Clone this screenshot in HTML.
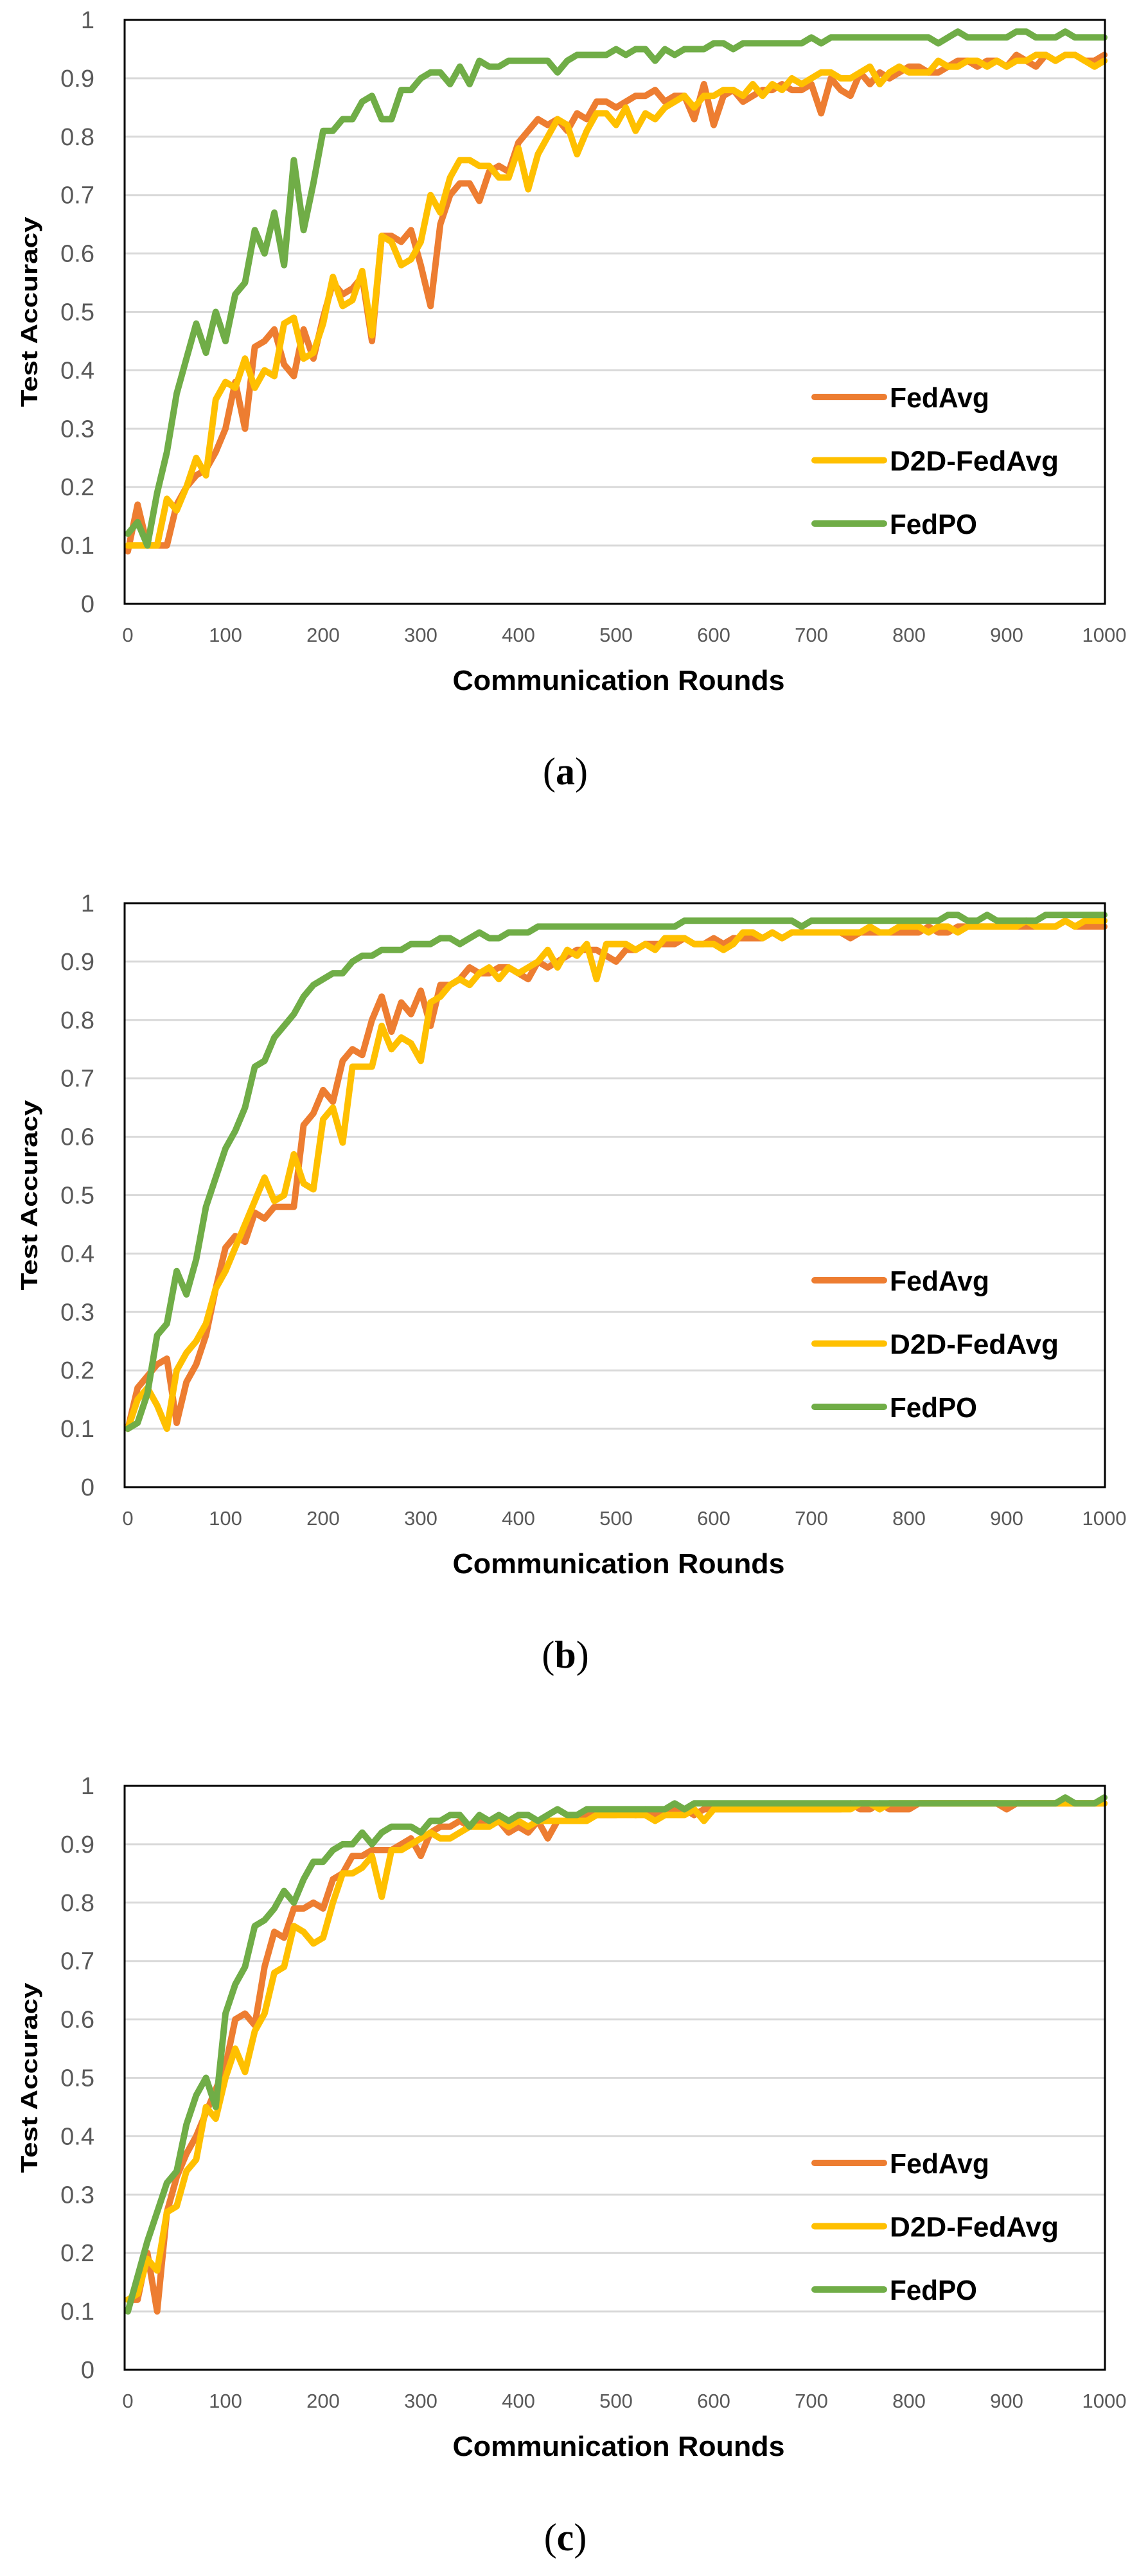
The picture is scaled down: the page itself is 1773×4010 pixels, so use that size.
<!DOCTYPE html>
<html><head><meta charset="utf-8"><style>
html,body{margin:0;padding:0;background:#fff;}
svg{display:block;}
</style></head><body>
<svg id="fig" width="1773" height="4010" viewBox="0 0 1773 4010" xmlns="http://www.w3.org/2000/svg"></svg>
<script>
// ---- data ----
const rounds = [0,10,20,30,40,50,60,70,80,90,100,110,120,130,140,150,160,170,180,190,200,210,220,230,240,250,260,270,280,290,300,310,320,330,340,350,360,370,380,390,400,410,420,430,440,450,460,470,480,490,500,510,520,530,540,550,560,570,580,590,600,610,620,630,640,650,660,670,680,690,700,710,720,730,740,750,760,770,780,790,800,810,820,830,840,850,860,870,880,890,900,910,920,930,940,950,960,970,980,990,1000];
const xTicks = [0,100,200,300,400,500,600,700,800,900,1000];
const yTicks = [0,0.1,0.2,0.3,0.4,0.5,0.6,0.7,0.8,0.9,1];
const yTickLabels = ["0","0.1","0.2","0.3","0.4","0.5","0.6","0.7","0.8","0.9","1"];
const seriesNames = ["FedAvg","D2D-FedAvg","FedPO"];
const captions = ["a","b","c"];

const aFedAvg = [0.09,0.17,0.10,0.10,0.10,0.17,0.20,0.22,0.23,0.26,0.30,0.38,0.30,0.44,0.45,0.47,0.41,0.39,0.47,0.42,0.49,0.55,0.53,0.54,0.56,0.45,0.63,0.63,0.62,0.64,0.58,0.51,0.65,0.70,0.72,0.72,0.69,0.74,0.75,0.74,0.79,0.81,0.83,0.82,0.83,0.81,0.84,0.83,0.86,0.86,0.85,0.86,0.87,0.87,0.88,0.86,0.87,0.87,0.83,0.89,0.82,0.87,0.88,0.86,0.87,0.88,0.88,0.89,0.88,0.88,0.89,0.84,0.90,0.88,0.87,0.91,0.89,0.91,0.90,0.91,0.92,0.92,0.91,0.91,0.92,0.93,0.93,0.92,0.93,0.93,0.92,0.94,0.93,0.92,0.94,0.93,0.94,0.94,0.93,0.93,0.94];
const aD2D = [0.10,0.10,0.10,0.10,0.18,0.16,0.20,0.25,0.22,0.35,0.38,0.37,0.42,0.37,0.40,0.39,0.48,0.49,0.42,0.43,0.48,0.56,0.51,0.52,0.57,0.46,0.63,0.62,0.58,0.59,0.62,0.70,0.67,0.73,0.76,0.76,0.75,0.75,0.73,0.73,0.78,0.71,0.77,0.80,0.83,0.82,0.77,0.81,0.84,0.84,0.82,0.85,0.81,0.84,0.83,0.85,0.86,0.87,0.85,0.87,0.87,0.88,0.88,0.87,0.89,0.87,0.89,0.88,0.90,0.89,0.90,0.91,0.91,0.90,0.90,0.91,0.92,0.89,0.91,0.92,0.91,0.91,0.91,0.93,0.92,0.92,0.93,0.93,0.92,0.93,0.92,0.93,0.93,0.94,0.94,0.93,0.94,0.94,0.93,0.92,0.93];
const aFedPO = [0.12,0.14,0.10,0.19,0.26,0.36,0.42,0.48,0.43,0.50,0.45,0.53,0.55,0.64,0.60,0.67,0.58,0.76,0.64,0.72,0.81,0.81,0.83,0.83,0.86,0.87,0.83,0.83,0.88,0.88,0.90,0.91,0.91,0.89,0.92,0.89,0.93,0.92,0.92,0.93,0.93,0.93,0.93,0.93,0.91,0.93,0.94,0.94,0.94,0.94,0.95,0.94,0.95,0.95,0.93,0.95,0.94,0.95,0.95,0.95,0.96,0.96,0.95,0.96,0.96,0.96,0.96,0.96,0.96,0.96,0.97,0.96,0.97,0.97,0.97,0.97,0.97,0.97,0.97,0.97,0.97,0.97,0.97,0.96,0.97,0.98,0.97,0.97,0.97,0.97,0.97,0.98,0.98,0.97,0.97,0.97,0.98,0.97,0.97,0.97,0.97];

const bFedAvg = [0.10,0.17,0.19,0.21,0.22,0.11,0.18,0.21,0.26,0.34,0.41,0.43,0.42,0.47,0.46,0.48,0.48,0.48,0.62,0.64,0.68,0.66,0.73,0.75,0.74,0.80,0.84,0.78,0.83,0.81,0.85,0.79,0.86,0.86,0.87,0.89,0.88,0.88,0.89,0.89,0.88,0.87,0.90,0.89,0.90,0.91,0.92,0.92,0.92,0.91,0.90,0.92,0.92,0.93,0.93,0.93,0.93,0.94,0.93,0.93,0.94,0.93,0.94,0.94,0.94,0.94,0.95,0.94,0.95,0.95,0.95,0.95,0.95,0.95,0.94,0.95,0.95,0.95,0.95,0.95,0.95,0.95,0.96,0.95,0.95,0.96,0.96,0.96,0.96,0.96,0.96,0.96,0.96,0.96,0.96,0.96,0.97,0.96,0.96,0.96,0.96];
const bD2D = [0.10,0.15,0.17,0.14,0.10,0.20,0.23,0.25,0.28,0.34,0.37,0.41,0.45,0.49,0.53,0.49,0.50,0.57,0.52,0.51,0.63,0.65,0.59,0.72,0.72,0.72,0.79,0.75,0.77,0.76,0.73,0.83,0.84,0.86,0.87,0.86,0.88,0.89,0.87,0.89,0.88,0.89,0.90,0.92,0.89,0.92,0.91,0.93,0.87,0.93,0.93,0.93,0.92,0.93,0.92,0.94,0.94,0.94,0.93,0.93,0.93,0.92,0.93,0.95,0.95,0.94,0.95,0.94,0.95,0.95,0.95,0.95,0.95,0.95,0.95,0.95,0.96,0.95,0.95,0.96,0.96,0.96,0.95,0.96,0.96,0.95,0.96,0.96,0.96,0.96,0.96,0.96,0.97,0.96,0.96,0.96,0.97,0.96,0.97,0.97,0.97];
const bFedPO = [0.10,0.11,0.16,0.26,0.28,0.37,0.33,0.39,0.48,0.53,0.58,0.61,0.65,0.72,0.73,0.77,0.79,0.81,0.84,0.86,0.87,0.88,0.88,0.90,0.91,0.91,0.92,0.92,0.92,0.93,0.93,0.93,0.94,0.94,0.93,0.94,0.95,0.94,0.94,0.95,0.95,0.95,0.96,0.96,0.96,0.96,0.96,0.96,0.96,0.96,0.96,0.96,0.96,0.96,0.96,0.96,0.96,0.97,0.97,0.97,0.97,0.97,0.97,0.97,0.97,0.97,0.97,0.97,0.97,0.96,0.97,0.97,0.97,0.97,0.97,0.97,0.97,0.97,0.97,0.97,0.97,0.97,0.97,0.97,0.98,0.98,0.97,0.97,0.98,0.97,0.97,0.97,0.97,0.97,0.98,0.98,0.98,0.98,0.98,0.98,0.98];

const cFedAvg = [0.12,0.12,0.20,0.10,0.27,0.33,0.37,0.40,0.44,0.48,0.52,0.60,0.61,0.59,0.69,0.75,0.74,0.79,0.79,0.80,0.79,0.84,0.85,0.88,0.88,0.89,0.89,0.89,0.90,0.91,0.88,0.92,0.93,0.93,0.94,0.93,0.94,0.94,0.94,0.92,0.93,0.92,0.94,0.91,0.94,0.94,0.95,0.95,0.95,0.95,0.95,0.96,0.95,0.96,0.95,0.96,0.96,0.96,0.95,0.96,0.96,0.96,0.96,0.96,0.96,0.96,0.96,0.96,0.96,0.96,0.96,0.96,0.96,0.96,0.97,0.96,0.96,0.97,0.96,0.96,0.96,0.97,0.97,0.97,0.97,0.97,0.97,0.97,0.97,0.97,0.96,0.97,0.97,0.97,0.97,0.97,0.97,0.97,0.97,0.97,0.97];
const cD2D = [0.12,0.13,0.19,0.17,0.27,0.28,0.34,0.36,0.45,0.43,0.50,0.55,0.51,0.58,0.61,0.68,0.69,0.76,0.75,0.73,0.74,0.80,0.85,0.85,0.86,0.88,0.81,0.89,0.89,0.90,0.91,0.92,0.91,0.91,0.92,0.93,0.93,0.93,0.94,0.93,0.94,0.93,0.94,0.94,0.94,0.94,0.94,0.94,0.95,0.95,0.95,0.95,0.95,0.95,0.94,0.95,0.95,0.95,0.96,0.94,0.96,0.96,0.96,0.96,0.96,0.96,0.96,0.96,0.96,0.96,0.96,0.96,0.96,0.96,0.96,0.97,0.97,0.96,0.97,0.97,0.97,0.97,0.97,0.97,0.97,0.97,0.97,0.97,0.97,0.97,0.97,0.97,0.97,0.97,0.97,0.97,0.97,0.97,0.97,0.97,0.97];
const cFedPO = [0.10,0.16,0.22,0.27,0.32,0.34,0.42,0.47,0.50,0.45,0.61,0.66,0.69,0.76,0.77,0.79,0.82,0.80,0.84,0.87,0.87,0.89,0.90,0.90,0.92,0.90,0.92,0.93,0.93,0.93,0.92,0.94,0.94,0.95,0.95,0.93,0.95,0.94,0.95,0.94,0.95,0.95,0.94,0.95,0.96,0.95,0.95,0.96,0.96,0.96,0.96,0.96,0.96,0.96,0.96,0.96,0.97,0.96,0.97,0.97,0.97,0.97,0.97,0.97,0.97,0.97,0.97,0.97,0.97,0.97,0.97,0.97,0.97,0.97,0.97,0.97,0.97,0.97,0.97,0.97,0.97,0.97,0.97,0.97,0.97,0.97,0.97,0.97,0.97,0.97,0.97,0.97,0.97,0.97,0.97,0.97,0.98,0.97,0.97,0.97,0.98];

const panels = [
  [aFedAvg, aD2D, aFedPO],
  [bFedAvg, bD2D, bFedPO],
  [cFedAvg, cD2D, cFedPO]
];

// ---- drawing ----
const NS = "http://www.w3.org/2000/svg";
const svg = document.getElementById("fig");
const colors = ["#ED7D31","#FFC000","#70AD47"];
const PL = 194, PR = 1720, PH = 909;
const tops = [31, 1406, 2780];
const X0 = 199, X1 = 1719;
function xs(v){ return X0 + (v/1000)*(X1-X0); }
function mk(tag, attrs, parent){
  const e = document.createElementNS(NS, tag);
  for (const k in attrs) e.setAttribute(k, attrs[k]);
  (parent||svg).appendChild(e);
  return e;
}
panels.forEach((series, pi) => {
  const top = tops[pi], bottom = top + PH;
  const ys = v => bottom - v*PH;
  const g = mk("g", {});
  
  
  yTicks.forEach((t, i) => {
    if (t > 0 && t < 1) {
      const l = mk("line", {x1:PL, x2:PR, y1:ys(t), y2:ys(t), stroke:"#d9d9d9", "stroke-width":3}, g);
      
      
    }
    const tx = mk("text", {x:147, y:ys(t)+13, "text-anchor":"end", "font-family":"Liberation Sans, sans-serif", "font-size":38, fill:"#595959"}, g);
    tx.textContent = yTickLabels[i];
    
    
  });
  xTicks.forEach(t => {
    const tx = mk("text", {x:xs(t), y:bottom+59, "text-anchor":"middle", "font-family":"Liberation Sans, sans-serif", "font-size":31, fill:"#595959"}, g);
    tx.textContent = String(t);
    
    
  });
  series.forEach((vals, si) => {
    const pts = vals.map((v, i) => xs(rounds[i]).toFixed(1) + "," + ys(v).toFixed(1)).join(" ");
    const pl = mk("polyline", {points:pts, fill:"none", stroke:colors[si], "stroke-width":10, "stroke-linejoin":"round", "stroke-linecap":"round"}, g);
    
    
  });
  const fr = mk("rect", {x:PL, y:top, width:PR-PL, height:PH, fill:"none", stroke:"#000", "stroke-width":3}, g);
  
  
  const lw = [155, 263, 136];
  seriesNames.forEach((n, si) => {
    const ly = top + 587 + si*98.5;
    const ln = mk("line", {x1:1268, x2:1376, y1:ly, y2:ly, stroke:colors[si], "stroke-width":10, "stroke-linecap":"round"}, g);
    
    
    const lt = mk("text", {x:1385, y:ly+16, "font-family":"Liberation Sans, sans-serif", "font-weight":"bold", "font-size":44, fill:"#000", textLength:lw[si], lengthAdjust:"spacingAndGlyphs"}, g);
    lt.textContent = n;
    
    
  });
  const yt = mk("text", {x:0, y:0, transform:"translate(58," + (top+PH/2) + ") rotate(-90)", "text-anchor":"middle", "font-family":"Liberation Sans, sans-serif", "font-weight":"bold", "font-size":36, fill:"#000", textLength:296, lengthAdjust:"spacingAndGlyphs"}, g);
  yt.textContent = "Test Accuracy";
  
  
  const xt = mk("text", {x:963, y:bottom+134, "text-anchor":"middle", "font-family":"Liberation Sans, sans-serif", "font-weight":"bold", "font-size":44, fill:"#000", textLength:517, lengthAdjust:"spacingAndGlyphs"}, g);
  xt.textContent = "Communication Rounds";
  
  
  const cp = mk("text", {x:880, y:bottom+281, "text-anchor":"middle", "font-family":"Liberation Serif, serif", "font-size":60, fill:"#000"}, g);
  
  
  const s1 = mk("tspan", {}, cp); s1.textContent = "(";
  const s2 = mk("tspan", {"font-weight":"bold"}, cp); s2.textContent = captions[pi];
  const s3 = mk("tspan", {}, cp); s3.textContent = ")";
});
</script>
</body></html>
